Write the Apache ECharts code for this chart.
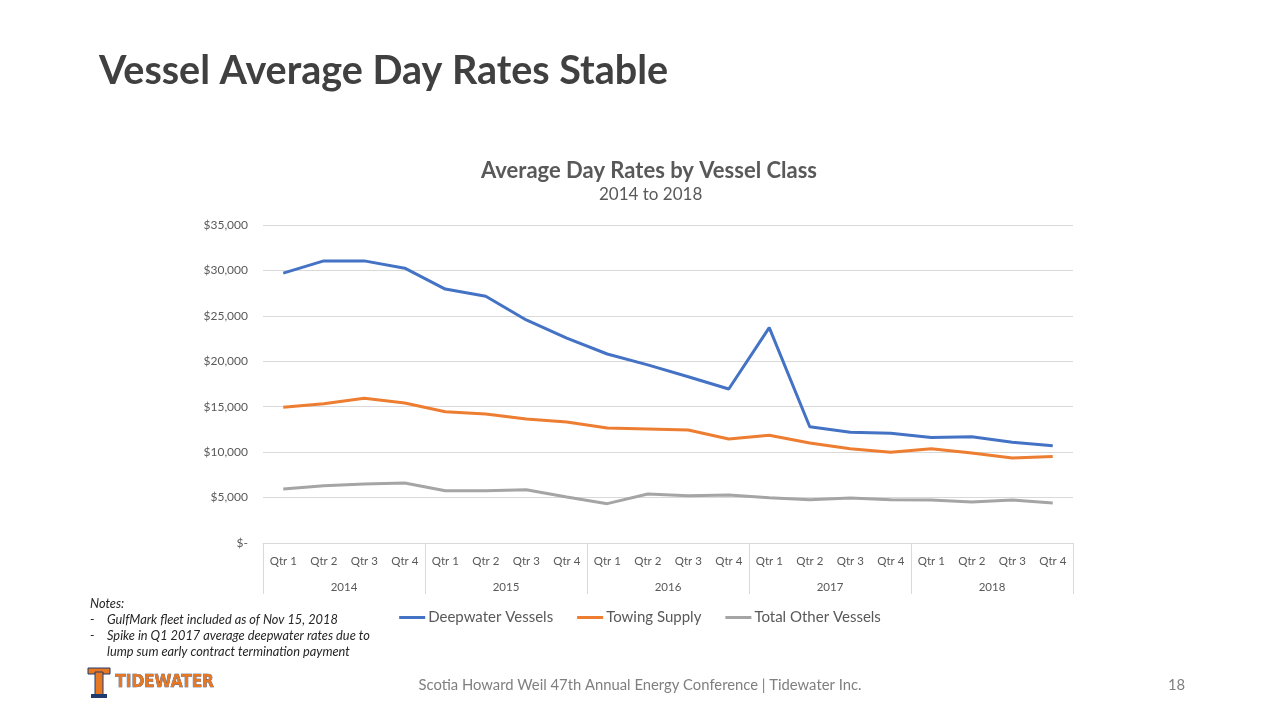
<!DOCTYPE html>
<html>
<head>
<meta charset="utf-8">
<script src="https://cdn.jsdelivr.net/npm/echarts@6/dist/echarts.min.js"></script>
<style>
html,body{margin:0;padding:0;background:#fff;}
#c{width:1280px;height:720px;}
</style>
</head>
<body>
<div id="c"></div>
<script>
const quarters = ['Qtr 1','Qtr 2','Qtr 3','Qtr 4','Qtr 1','Qtr 2','Qtr 3','Qtr 4','Qtr 1','Qtr 2','Qtr 3','Qtr 4','Qtr 1','Qtr 2','Qtr 3','Qtr 4','Qtr 1','Qtr 2','Qtr 3','Qtr 4'];
const years = ['2014','2015','2016','2017','2018'];
const deepwater = [29700,31050,31050,30250,27950,27150,24550,22550,20800,19600,18300,16950,23700,12800,12180,12070,11600,11700,11080,10700];
const towing = [14930,15330,15920,15410,14450,14200,13650,13320,12660,12550,12440,11450,11850,11000,10380,10000,10380,9900,9350,9530];
const other = [5940,6300,6490,6600,5760,5760,5870,5060,4330,5390,5200,5280,4990,4770,4950,4770,4730,4510,4730,4400];
const seriesNames = ['Deepwater Vessels','Towing Supply','Total Other Vessels'];
const yTicks = {min:0, max:35000, interval:5000};

const chart = echarts.init(document.getElementById('c'));
const FONT = 'Lato, "Open Sans", sans-serif';
const lbl = '#595959';
const noteFont = 'italic 12.8px ' + FONT;
chart.setOption({
  animation:false,
  backgroundColor:'#ffffff',
  color:['#4472c4','#ed7d31','#a5a5a5'],
  title:[
    {text:'Vessel Average Day Rates Stable', left:94, top:46,
     textStyle:{fontFamily:FONT, fontWeight:'bold', fontSize:39.5, color:'#404040'}},
    {text:'Average Day Rates by Vessel Class', left:476, top:155,
     textStyle:{fontFamily:FONT, fontWeight:'bold', fontSize:22, color:lbl}},
    {text:'2014 to 2018', left:594, top:181,
     textStyle:{fontFamily:FONT, fontWeight:'normal', fontSize:17, color:lbl}}
  ],
  legend:{
    data:seriesNames, top:605, left:'center', itemWidth:26, itemHeight:3, itemGap:24,
    icon:'rect',
    textStyle:{fontFamily:FONT, fontSize:15, color:lbl, padding:[0,0,0,-2]}
  },
  grid:{left:263, right:207, top:225, bottom:177},
  xAxis:[
    {type:'category', data:quarters, position:'bottom',
     axisLine:{show:true, lineStyle:{color:'#d9d9d9', width:1}},
     axisTick:{show:false},
     axisLabel:{interval:0, margin:12, fontFamily:FONT, fontSize:11.5, color:lbl}},
    {type:'category', data:years, position:'bottom',
     axisLine:{show:false},
     axisTick:{show:true, length:51, interval:0, lineStyle:{color:'#d9d9d9'}},
     axisLabel:{interval:0, margin:38, fontFamily:FONT, fontSize:11.5, color:lbl}}
  ],
  yAxis:{
    type:'value', min:yTicks.min, max:yTicks.max, interval:yTicks.interval,
    axisLine:{show:false}, axisTick:{show:false},
    splitLine:{lineStyle:{color:'#d9d9d9', width:1}},
    axisLabel:{margin:15, fontFamily:FONT, fontSize:12, color:lbl,
      formatter:v => v === 0 ? '$-' : '$' + v.toLocaleString('en-US')}
  },
  series:[
    {name:seriesNames[0], type:'line', data:deepwater, showSymbol:false, lineStyle:{width:3}},
    {name:seriesNames[1], type:'line', data:towing, showSymbol:false, lineStyle:{width:3}},
    {name:seriesNames[2], type:'line', data:other, showSymbol:false, lineStyle:{width:3}}
  ],
  graphic:[
    {type:'text', left:90, top:597, style:{text:'Notes:', font:noteFont, fill:'#262626'}},
    {type:'text', left:90, top:613, style:{text:'-', font:noteFont, fill:'#262626'}},
    {type:'text', left:107, top:613, style:{text:'GulfMark fleet included as of Nov 15, 2018', font:noteFont, fill:'#262626'}},
    {type:'text', left:90, top:629, style:{text:'-', font:noteFont, fill:'#262626'}},
    {type:'text', left:107, top:629, style:{text:'Spike in Q1 2017 average deepwater rates due to', font:noteFont, fill:'#262626'}},
    {type:'text', left:107, top:645, style:{text:'lump sum early contract termination payment', font:noteFont, fill:'#262626'}},
    {type:'text', left:'center', top:678, style:{text:'Scotia Howard Weil 47th Annual Energy Conference | Tidewater Inc.', font:'14.8px '+FONT, fill:'#7f7f7f'}},
    {type:'text', left:1168, top:678, style:{text:'18', font:'14.8px '+FONT, fill:'#7f7f7f'}},
    // logo approximation
    {type:'rect', shape:{x:88, y:668, width:22, height:6}, style:{fill:'#e87722', stroke:'#1f3a6e', lineWidth:1}},
    {type:'rect', shape:{x:95, y:672, width:8, height:24}, style:{fill:'#e87722', stroke:'#1f3a6e', lineWidth:1}},
    {type:'rect', shape:{x:91, y:694, width:16, height:4}, style:{fill:'#1f3a6e'}},
    {type:'text', left:115, top:674, style:{text:'TIDEWATER', font:'bold 17px "DejaVu Sans Condensed", sans-serif', fill:'#e87722', stroke:'#1f3a6e', lineWidth:0.6}}
  ]
});
</script>
</body>
</html>
